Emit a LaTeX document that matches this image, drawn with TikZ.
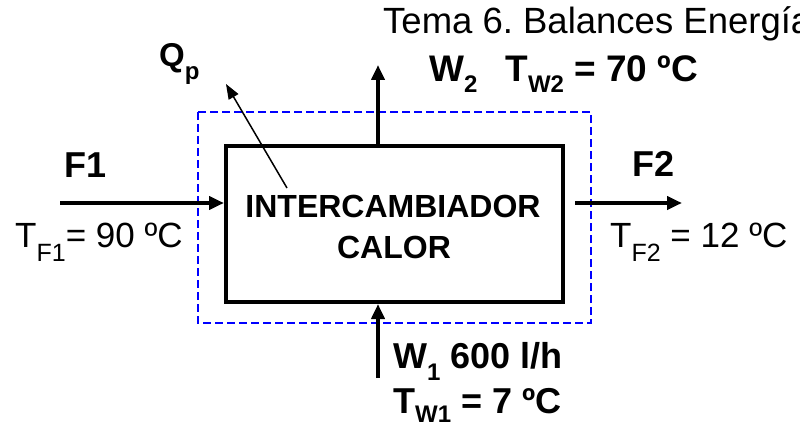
\documentclass[tikz,border=0pt]{standalone}
\usepackage{fontspec}
\setmainfont{Liberation Sans}
\usetikzlibrary{arrows.meta}
\newcommand\lsub[3]{\raisebox{-#2pt}{\fontsize{#1}{#1}\selectfont #3}}
\begin{document}
\frenchspacing
\begin{tikzpicture}[x=1pt,y=-1pt,
  lbl/.style={inner sep=0pt,anchor=base west},
  flow/.style={line width=4pt,-{Triangle[length=15pt,width=13pt]}},
  dashbox/.style={draw=blue,line width=1.5pt,dash pattern=on 8pt off 4pt}]
\useasboundingbox (0,0) rectangle (800,425);
\clip (0,0) rectangle (800,425);
% system boundary
\draw[dashbox] (198,112) rectangle (591,323);
% exchanger
\node[draw,line width=4pt,minimum width=337pt,minimum height=156pt,inner sep=0pt] (hx) at (394.5,224) {};
\node[lbl,anchor=base,font=\fontsize{32}{36}\selectfont\bfseries] (hx1) at (393,217) {INTERCAMBIADOR};
\node[lbl,anchor=base,font=\fontsize{32}{36}\selectfont\bfseries] (hx2) at (394,258) {CALOR};
% connector ends
\coordinate (f1) at (60,203);
\coordinate (f2) at (682,203);
\coordinate (w2) at (378,65);
\coordinate (w1) at (378,378);
\coordinate (qs) at (287,188);
\coordinate (qe) at (226,84);
\draw[flow] (f1) -- (f1 -| hx.west);
\draw[flow] (f2 -| hx.east) ++(10,0) -- (f2);
\draw[flow] (w2 |- hx.north) -- (w2);
\draw[flow] (w1) -- (w1 |- hx.south);
\draw[line width=1.5pt,-{Triangle[length=15pt,width=11pt]}] (qs) -- (qe);
% texts
\node[lbl,font=\fontsize{36.5}{38}\selectfont] (tema) at (383,34) {Tema 6. Balances Energía};
\node[lbl,font=\fontsize{37}{40}\selectfont\bfseries] (w2t) at (429,82) {W\lsub{24}{11}{2}\hspace{28pt}T\lsub{24}{11}{W2} = 70 ºC};
\node[lbl,font=\fontsize{33}{36}\selectfont\bfseries] (qp) at (159,67) {Q\lsub{24}{13}{p}};
\node[lbl,font=\fontsize{36}{40}\selectfont\bfseries] (f1t) at (64,177) {F1};
\node[lbl,font=\fontsize{36}{40}\selectfont\bfseries] (f2t) at (632,176) {F2};
\node[lbl,font=\fontsize{35}{40}\selectfont] (tf1) at (15,247) {T\lsub{25}{14}{F1}= 90 ºC};
\node[lbl,font=\fontsize{35}{40}\selectfont] (tf2) at (610,247) {T\lsub{25}{14}{F2} = 12 ºC};
\node[lbl,font=\fontsize{36}{40}\selectfont\bfseries] (w1t) at (393,368) {W\lsub{24}{12}{1} 600 l/h};
\node[lbl,font=\fontsize{36}{40}\selectfont\bfseries] (tw1t) at (393,413) {T\lsub{24}{9}{W1} = 7 ºC};
\end{tikzpicture}
\end{document}
